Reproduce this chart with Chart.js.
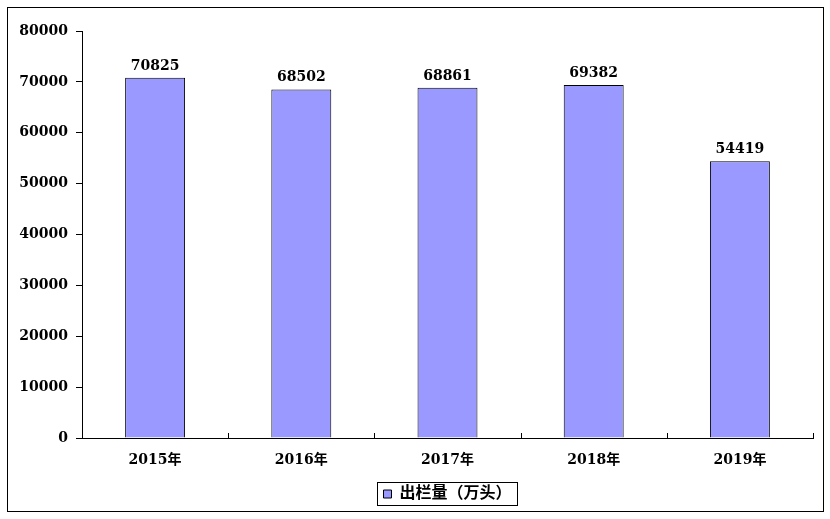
<!DOCTYPE html>
<html>
<head>
<meta charset="utf-8">
<script src="https://cdn.jsdelivr.net/npm/chart.js@4/dist/chart.umd.min.js"></script>
<style>
  html, body { margin: 0; padding: 0; background: #fff; }
  #wrap { width: 830px; height: 519px; position: relative; }
</style>
</head>
<body>
<div id="wrap"><canvas id="chart" width="830" height="519"></canvas></div>
<script>
const categories = ['2015年', '2016年', '2017年', '2018年', '2019年'];
const values = [70825, 68502, 68861, 69382, 54419];
const seriesName = '出栏量（万头）';
const yTicks = [0, 10000, 20000, 30000, 40000, 50000, 60000, 70000, 80000];

const FONT = '"DejaVu Serif", "Noto Sans CJK SC", serif';

// outer frame, x-axis boundary ticks, value labels, legend frame
const extras = {
  id: 'extras',
  afterDraw(chart) {
    const ctx = chart.ctx;
    const area = chart.chartArea;
    ctx.save();
    ctx.strokeStyle = '#000';
    ctx.lineWidth = 1;
    ctx.strokeRect(7.5, 7.5, 816, 504);

    // small ticks on category boundaries, pointing up
    const n = categories.length;
    const step = (area.right - area.left) / n;
    for (let i = 1; i <= n; i++) {
      const x = Math.round(area.left + i * step) + 0.5;
      ctx.beginPath();
      ctx.moveTo(x, area.bottom);
      ctx.lineTo(x, area.bottom - 5);
      ctx.stroke();
    }

    // value labels
    ctx.fillStyle = '#000';
    ctx.font = 'bold 14px ' + FONT;
    ctx.textAlign = 'center';
    ctx.textBaseline = 'alphabetic';
    chart.getDatasetMeta(0).data.forEach((bar, i) => {
      ctx.fillText(String(values[i]), bar.x, bar.y - 8);
    });

    // legend frame
    const lg = chart.legend;
    if (lg && lg.legendHitBoxes && lg.legendHitBoxes.length) {
      const hb = lg.legendHitBoxes[0];
      ctx.strokeRect(Math.round(hb.left) - 5.5, Math.round(hb.top) - 3.5,
        Math.round(hb.width) + 12, Math.round(hb.height) + 7);
    }
    ctx.restore();
  }
};

new Chart(document.getElementById('chart'), {
  type: 'bar',
  data: {
    labels: categories,
    datasets: [{
      label: seriesName,
      data: values,
      backgroundColor: '#9999FF',
      borderColor: '#000',
      borderWidth: 1,
      categoryPercentage: 1,
      barPercentage: 0.41
    }]
  },
  options: {
    responsive: false,
    animation: false,
    layout: { padding: { top: 31, right: 17, bottom: 7, left: 0 } },
    plugins: {
      tooltip: { enabled: false },
      legend: {
        position: 'bottom',
        fullSize: false,
        labels: {
          boxWidth: 8,
          boxHeight: 8,
          padding: 6,
          color: '#000',
          font: { family: FONT, size: 16, weight: 'bold' }
        }
      }
    },
    scales: {
      x: {
        grid: { display: false, drawTicks: false },
        border: { color: '#000', width: 1 },
        ticks: {
          color: '#000',
          padding: 14,
          font: { family: FONT, size: 14, weight: 'bold' }
        },
        afterFit(scale) { scale.height = 42; }
      },
      y: {
        min: 0,
        max: 80000,
        afterBuildTicks(scale) { scale.ticks = yTicks.map(v => ({ value: v })); },
        grid: { drawOnChartArea: false, tickLength: 6, color: '#000' },
        border: { color: '#000', width: 1 },
        ticks: {
          color: '#000',
          padding: 8,
          font: { family: FONT, size: 14, weight: 'bold' },
          callback: v => String(v)
        },
        afterFit(scale) { scale.width = 82; }
      }
    }
  },
  plugins: [extras]
});
</script>
</body>
</html>
